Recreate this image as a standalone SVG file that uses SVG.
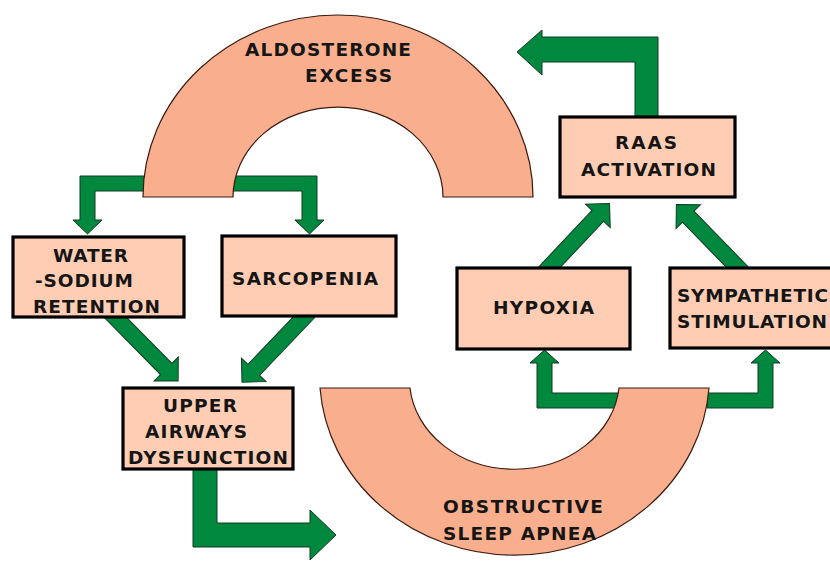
<svg xmlns="http://www.w3.org/2000/svg" width="830" height="567" viewBox="0 0 830 567">
<style>
.arch{fill:#F9AE8D;stroke:#3a1a10;stroke-width:1.2}
.box{fill:#FFCDB3;stroke:#000;stroke-width:3.2}
.arr{fill:#00883F;stroke:#123a20;stroke-width:1}
text{font-family:"DejaVu Sans","Liberation Sans",Arial,sans-serif;font-weight:bold;font-size:18.5px;fill:#151515}
</style>
<defs>
<polygon id="dArrow" points="0,-8 80,-8 80,-17 97,0 80,17 80,8 0,8"/>
</defs>
<rect width="830" height="567" fill="#fff"/>
<g id="connectors">
<polygon class="arr" points="145,176 80,176 80,220 73,220 87.5,234 102,220 95,220 95,191 145,191"/>
<polygon class="arr" points="231,176 317,176 317,220 324,220 309.5,234 295,220 302,220 302,191 231,191"/>
<use href="#dArrow" class="arr" transform="translate(110,312) rotate(45.4)"/>
<use href="#dArrow" class="arr" transform="translate(309,312) rotate(133.7)"/>
<polygon class="arr" points="193,468 217,468 217,523 310,523 310,510 336,535 310,560 310,547 193,547"/>
<polygon class="arr" points="621,393 552,393 552,363 559,363 544.5,350 530,363 537,363 537,408 621,408"/>
<polygon class="arr" points="707,393 758,393 758,363 751,363 765.5,350 780,363 773,363 773,408 707,408"/>
<use href="#dArrow" class="arr" transform="translate(543,274) rotate(-46.7)"/>
<use href="#dArrow" class="arr" transform="translate(744,274) rotate(-134.2)"/>
<polygon class="arr" points="635,119 635,62 542,62 542,75 517,52 542,30 542,37 658,37 658,119"/>
</g>
<g id="aldosterone">
<path class="arch" d="M143,197 A195,182 0 0 1 533,197 L443,197 A105,90 0 0 0 233,197 Z"/>
<text x="245" y="56" textLength="166" lengthAdjust="spacing">ALDOSTERONE</text>
<text x="305" y="82" textLength="87" lengthAdjust="spacing">EXCESS</text>
</g>
<g id="osa">
<path class="arch" d="M320,388 A195,180 0 0 0 709,388 L619,388 A105,90 0 0 1 410,388 Z"/>
<text x="443" y="513" textLength="160" lengthAdjust="spacing">OBSTRUCTIVE</text>
<text x="443" y="540" textLength="153" lengthAdjust="spacing">SLEEP APNEA</text>
</g>
<g id="water">
<rect class="box" x="13" y="237" width="171" height="80"/>
<text x="53" y="262" textLength="75" lengthAdjust="spacing">WATER</text>
<text x="35" y="287" textLength="98" lengthAdjust="spacing">-SODIUM</text>
<text x="33" y="313" textLength="127" lengthAdjust="spacing">RETENTION</text>
</g>
<g id="sarcopenia">
<rect class="box" x="222" y="236" width="174" height="80"/>
<text x="232" y="285" textLength="146" lengthAdjust="spacing">SARCOPENIA</text>
</g>
<g id="upper">
<rect class="box" x="123" y="388" width="170" height="81"/>
<text x="163" y="412" textLength="74" lengthAdjust="spacing">UPPER</text>
<text x="145" y="438" textLength="102" lengthAdjust="spacing">AIRWAYS</text>
<text x="128" y="464" textLength="160" lengthAdjust="spacing">DYSFUNCTION</text>
</g>
<g id="raas">
<rect class="box" x="560" y="117" width="175" height="80"/>
<text x="615" y="149" textLength="62" lengthAdjust="spacing">RAAS</text>
<text x="581" y="176" textLength="135" lengthAdjust="spacing">ACTIVATION</text>
</g>
<g id="hypoxia">
<rect class="box" x="457" y="268" width="173" height="81"/>
<text x="493" y="314" textLength="101" lengthAdjust="spacing">HYPOXIA</text>
</g>
<g id="sympathetic">
<rect class="box" x="670" y="268" width="175" height="80"/>
<text x="677" y="302" textLength="151" lengthAdjust="spacing">SYMPATHETIC</text>
<text x="677" y="328" textLength="150" lengthAdjust="spacing">STIMULATION</text>
</g>
</svg>
